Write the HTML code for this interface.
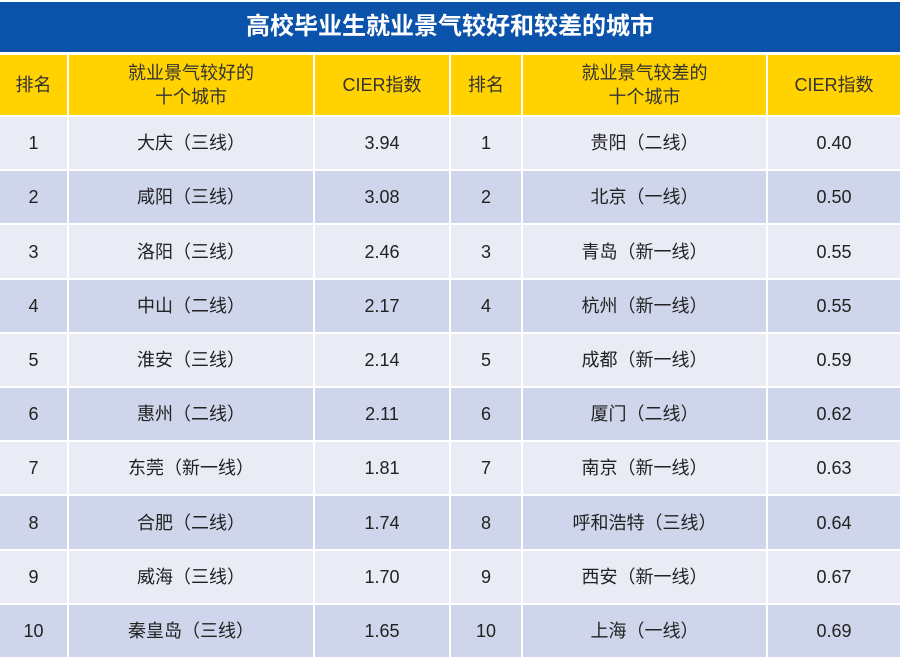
<!DOCTYPE html>
<html><head><meta charset="utf-8"><style>
body{margin:0;width:900px;height:659px;background:#fff;position:relative;overflow:hidden;font-family:"Liberation Sans","Noto Sans CJK SC",sans-serif;}
.c{position:absolute;display:flex;align-items:center;justify-content:center;text-align:center;color:#222;font-size:18px;line-height:24px;}
.h{background:#ffd200;color:#333;}
</style></head><body>
<div class="c" style="left:0;top:2px;width:900px;height:50px;background:#0b52aa;color:#fff;font-size:24px;font-weight:bold;">高校毕业生就业景气较好和较差的城市</div>
<div id="t"></div>
<script>
const ranks=[1,2,3,4,5,6,7,8,9,10];
const goodCities=["大庆（三线）","咸阳（三线）","洛阳（三线）","中山（二线）","淮安（三线）","惠州（二线）","东莞（新一线）","合肥（二线）","威海（三线）","秦皇岛（三线）"];
const goodIdx=["3.94","3.08","2.46","2.17","2.14","2.11","1.81","1.74","1.70","1.65"];
const badCities=["贵阳（二线）","北京（一线）","青岛（新一线）","杭州（新一线）","成都（新一线）","厦门（二线）","南京（新一线）","呼和浩特（三线）","西安（新一线）","上海（一线）"];
const badIdx=["0.40","0.50","0.55","0.55","0.59","0.62","0.63","0.64","0.67","0.69"];
const headers=["排名","就业景气较好的<br>十个城市","CIER指数","排名","就业景气较差的<br>十个城市","CIER指数"];
const cols=[[0,67],[69,313],[315,449],[451,521],[523,766],[768,900]];
const t=document.getElementById('t');
function cell(x0,x1,y,h,html,cls,bg,name){
  const d=document.createElement('div');
  d.className='c '+cls;
  d.style.left=x0+'px';d.style.width=(x1-x0)+'px';d.style.top=y+'px';d.style.height=h+'px';
  if(bg)d.style.background=bg;
  d.innerHTML=html;
  
  
  t.appendChild(d);
}
headers.forEach((h,i)=>cell(cols[i][0],cols[i][1],55,60,h,'h',null,'header-cell'));
const rowH=54.2;
ranks.forEach((r,i)=>{
  const y=Math.round(117+i*rowH);
  const h=Math.round(117+(i+1)*rowH)-y-2;
  const bg=i%2===0?'#e9ebf5':'#cfd5ea';
  const vals=[r,goodCities[i],goodIdx[i],r,badCities[i],badIdx[i]];
  vals.forEach((v,j)=>cell(cols[j][0],cols[j][1],y,h,v,'',bg,'table-cell'));
});
</script>
</body></html>
